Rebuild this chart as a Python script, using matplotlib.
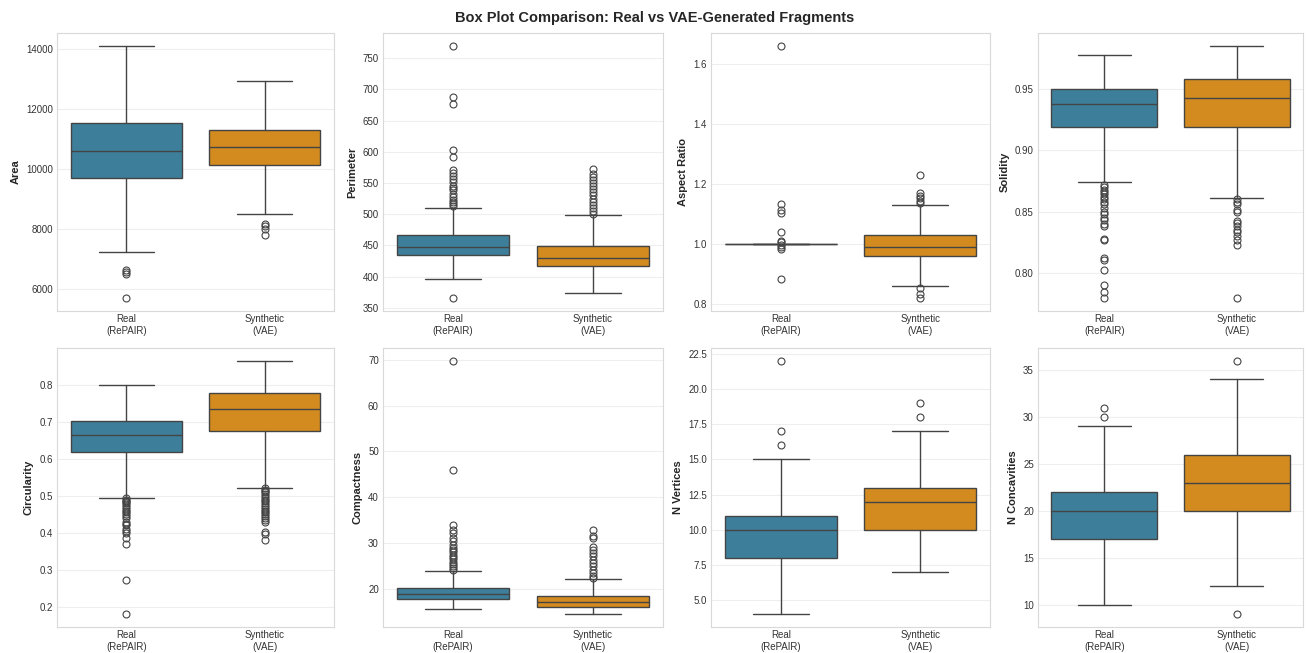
import matplotlib
matplotlib.use("Agg")
import matplotlib.pyplot as plt
import seaborn as sns

# box summaries: [whisker low, Q1, median, Q3, whisker high]
metrics = ['Area', 'Perimeter', 'Aspect Ratio', 'Solidity',
           'Circularity', 'Compactness', 'N Vertices', 'N Concavities']
groups = ['Real\n(RePAIR)', 'Synthetic\n(VAE)']

real_stats = [
    [7220, 9710, 10610, 11530, 14120],
    [396, 435, 448, 466, 510],
    [1.0, 1.0, 1.0, 1.0, 1.0],
    [0.874, 0.919, 0.938, 0.950, 0.978],
    [0.495, 0.618, 0.664, 0.701, 0.800],
    [15.6, 17.9, 18.9, 20.3, 23.9],
    [4, 8, 10, 11, 15],
    [10, 17, 20, 22, 29],
]
synth_stats = [
    [8500, 10120, 10730, 11300, 12930],
    [373, 417, 430, 449, 498],
    [0.860, 0.961, 0.991, 1.031, 1.131],
    [0.861, 0.9195, 0.943, 0.9587, 0.9857],
    [0.5225, 0.675, 0.735, 0.777, 0.865],
    [14.5, 16.1, 17.2, 18.5, 22.3],
    [7, 10, 12, 13, 17],
    [12, 20, 23, 26, 34],
]
real_fliers = [
    [6630, 6550, 6490, 5680],
    [770, 688, 677, 602, 591, 571, 566, 561, 556, 551, 545, 542, 538, 532,
     527, 523, 519, 516, 513, 365],
    [1.663, 1.135, 1.113, 1.104, 1.041, 1.011, 1.005, 0.995, 0.99, 0.983, 0.883],
    [0.872, 0.870, 0.868, 0.866, 0.864, 0.862, 0.860, 0.858, 0.856, 0.853,
     0.850, 0.848, 0.845, 0.843, 0.840, 0.838, 0.8275, 0.8265, 0.812, 0.810,
     0.802, 0.790, 0.7845, 0.779],
    [0.493, 0.490, 0.487, 0.483, 0.480, 0.475, 0.470, 0.465, 0.460, 0.455,
     0.450, 0.445, 0.440, 0.430, 0.425, 0.420, 0.410, 0.405, 0.399, 0.386,
     0.370, 0.274, 0.180],
    [69.8, 46.0, 34.0, 32.8, 32.2, 31.1, 30.4, 29.7, 29.0, 28.5, 28.0, 27.5,
     27.0, 26.5, 26.0, 25.5, 25.0, 24.5, 24.2],
    [22, 17, 16],
    [31, 30],
]
synth_fliers = [
    [8150, 8080, 8000, 7780],
    [572, 565, 560, 555, 550, 545, 540, 535, 530, 525, 520, 515, 510, 505, 500],
    [1.231, 1.169, 1.161, 1.152, 1.144, 1.138, 0.852, 0.834, 0.818],
    [0.860, 0.858, 0.856, 0.851, 0.850, 0.842, 0.841, 0.838, 0.835, 0.833,
     0.830, 0.827, 0.823, 0.779],
    [0.520, 0.517, 0.513, 0.510, 0.505, 0.500, 0.495, 0.490, 0.485, 0.480,
     0.475, 0.470, 0.465, 0.460, 0.455, 0.450, 0.445, 0.440, 0.435, 0.430,
     0.401, 0.397, 0.381],
    [32.9, 31.6, 31.2, 29.2, 28.6, 27.9, 27.2, 26.4, 25.7, 25.0, 24.2, 23.5,
     22.8, 22.4],
    [19, 18],
    [36, 9],
]

colors = ['#3D7F9B', '#D38A1F']
line_color = '#444444'

sns.set_style("whitegrid")
plt.rcParams['font.family'] = ['Liberation Sans', 'DejaVu Sans']

W, H = 1309, 653
fig = plt.figure(figsize=(W / 100, H / 100), dpi=100)
# panel edges in pixels (like the tight layout of the original)
col_edges = [(57, 334), (383, 663), (711, 990), (1038, 1303)]
row_edges = [(33, 311), (348, 627)]

for i, name in enumerate(metrics):
    (x0, x1), (y0, y1) = col_edges[i % 4], row_edges[i // 4]
    ax = fig.add_axes([x0 / W, 1 - y1 / H, (x1 - x0) / W, (y1 - y0) / H])
    stats = []
    for s, f in [(real_stats[i], real_fliers[i]), (synth_stats[i], synth_fliers[i])]:
        stats.append({'whislo': s[0], 'q1': s[1], 'med': s[2], 'q3': s[3],
                      'whishi': s[4], 'fliers': f})
    art = ax.bxp(stats, positions=[0, 1], widths=0.8, capwidths=0.4,
                 patch_artist=True,
                 boxprops=dict(edgecolor=line_color, linewidth=1.0),
                 whiskerprops=dict(color=line_color, linewidth=1.0),
                 capprops=dict(color=line_color, linewidth=1.0),
                 medianprops=dict(color=line_color, linewidth=1.0),
                 flierprops=dict(marker='o', markersize=5, markerfacecolor='none',
                                 markeredgecolor=line_color, markeredgewidth=0.8))
    for box, c in zip(art['boxes'], colors):
        box.set_facecolor(c)
    ax.set_xlim(-0.5, 1.5)
    ax.set_xticks([0, 1])
    ax.set_xticklabels(groups, fontsize=7, color='#333333', linespacing=1.3)
    ax.tick_params(axis='y', labelsize=7, labelcolor='#333333', pad=3)
    ax.tick_params(axis='x', length=0, pad=2)
    ax.tick_params(axis='y', length=0)
    ax.set_ylabel(name, fontsize=8, fontweight='bold', labelpad=4)
    ax.xaxis.grid(False)
    ax.yaxis.grid(True, color='#eeeeee', linewidth=0.8)
    for sp in ax.spines.values():
        sp.set_color('#d9d9d9')

fig.suptitle('Box Plot Comparison: Real vs VAE-Generated Fragments',
             fontsize=10.5, fontweight='bold', y=0.972, va='center')
plt.savefig('out.png', dpi=100)
